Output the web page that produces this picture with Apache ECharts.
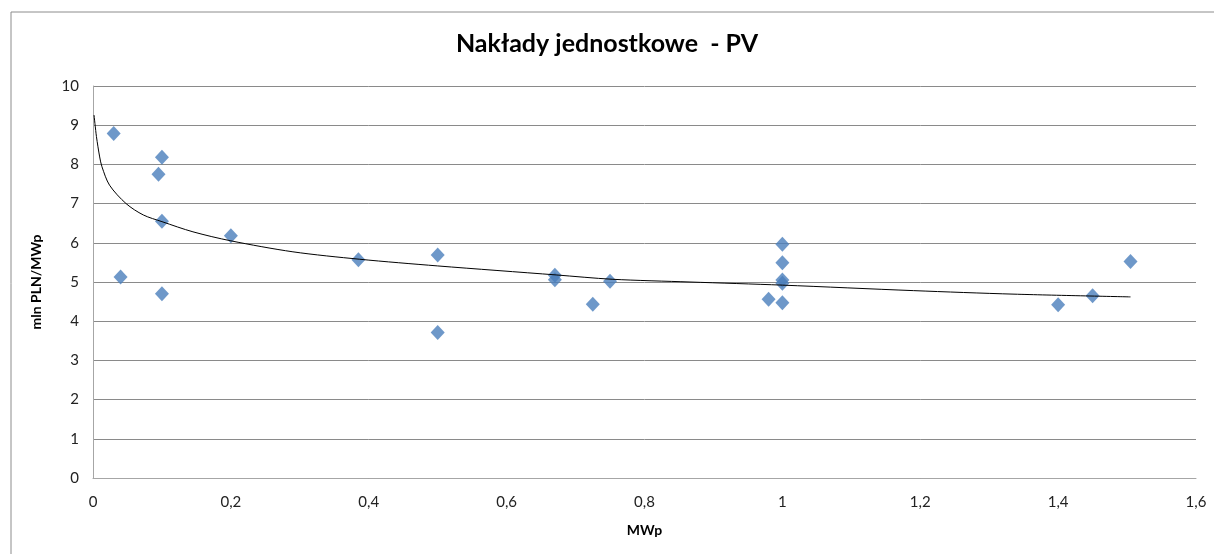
<!DOCTYPE html>
<html>
<head>
<meta charset="utf-8">
<script src="https://cdn.jsdelivr.net/npm/echarts@6/dist/echarts.min.js"></script>
<style>
  html, body { margin: 0; padding: 0; background: #fff; }
  #chart { width: 1214px; height: 554px; }
</style>
</head>
<body>
<div id="chart"></div>
<script>
// moc instalacji [MWp] i naklady [mln PLN/MWp]
const mocMWp = [0.03, 0.04, 0.095, 0.1, 0.1, 0.1, 0.2, 0.385, 0.5, 0.5, 0.67, 0.67, 0.725, 0.75,
  0.98, 1.0, 1.0, 1.0, 1.0, 1.0, 1.4, 1.45, 1.505]
const naklady = [8.79, 5.13, 7.75, 8.18, 6.55, 4.70, 6.18, 5.57, 5.69, 3.71, 5.17, 5.06, 4.43, 5.02,
  4.56, 5.96, 5.49, 5.05, 4.97, 4.47, 4.42, 4.65, 5.52]

// linia trendu (logarytmiczna)
const trendX = [0.0015, 0.005, 0.0097, 0.013, 0.024, 0.048, 0.073, 0.1, 0.145, 0.2, 0.29, 0.387,
  0.5, 0.672, 0.753, 0.866, 1.0, 1.19, 1.336, 1.505]
const trendY = [9.26, 8.71, 8.19, 7.94, 7.47, 7.0, 6.71, 6.54, 6.28, 6.05, 5.77, 5.58,
  5.41, 5.18, 5.07, 5.0, 4.92, 4.78, 4.69, 4.62]

const xTicks = [0, 0.2, 0.4, 0.6, 0.8, 1, 1.2, 1.4, 1.6]
const yTicks = [0, 1, 2, 3, 4, 5, 6, 7, 8, 9, 10]

const font = 'Lato, "Open Sans", sans-serif'

const chart = echarts.init(document.getElementById('chart'))

const option = {
  animation: false,
  backgroundColor: '#fff',
  textStyle: { fontFamily: font },
  graphic: [
    {
      type: 'rect',
      shape: { x: 11, y: 12, width: 1230, height: 570 },
      style: { fill: 'none', stroke: '#8c8c8c', lineWidth: 1 },
      silent: true
    }
  ],
  title: {
    text: 'Nakłady jednostkowe  - PV',
    left: 'center',
    top: 26,
    textStyle: { fontFamily: font, fontSize: 25, fontWeight: 'bold', color: '#000' }
  },
  grid: { left: 93, right: 18, top: 86, bottom: 76 },
  xAxis: {
    type: 'value',
    min: xTicks[0],
    max: xTicks[xTicks.length - 1],
    interval: 0.2,
    name: 'MWp',
    nameLocation: 'middle',
    nameGap: 45,
    nameTextStyle: { fontFamily: font, fontSize: 14, fontWeight: 'bold', color: '#000' },
    axisLine: { lineStyle: { color: '#a6a6a6', width: 1 } },
    axisTick: { show: false },
    splitLine: { show: false },
    axisLabel: {
      margin: 17,
      fontSize: 15,
      color: '#222',
      formatter: v => String(+v.toFixed(1)).replace('.', ',')
    }
  },
  yAxis: {
    type: 'value',
    min: yTicks[0],
    max: yTicks[yTicks.length - 1],
    interval: 1,
    name: 'mln PLN/MWp',
    nameLocation: 'middle',
    nameGap: 50,
    nameTextStyle: { fontFamily: font, fontSize: 14, fontWeight: 'bold', color: '#000' },
    axisLine: { show: true, lineStyle: { color: '#a6a6a6', width: 1 } },
    axisTick: { show: false },
    splitLine: { lineStyle: { color: '#8a8a8a', width: 1 } },
    axisLabel: { margin: 14, fontSize: 15, color: '#222' }
  },
  series: [
    {
      type: 'line',
      data: trendX.map((x, i) => [x, trendY[i]]),
      smooth: 0.3,
      showSymbol: false,
      lineStyle: { color: '#000', width: 1 },
      z: 3
    },
    {
      type: 'scatter',
      data: mocMWp.map((x, i) => [x, naklady[i]]),
      symbol: 'diamond',
      symbolSize: [14, 15],
      itemStyle: { color: '#4a7ebb' },
      z: 2
    }
  ]
}

chart.setOption(option)
</script>
</body>
</html>
